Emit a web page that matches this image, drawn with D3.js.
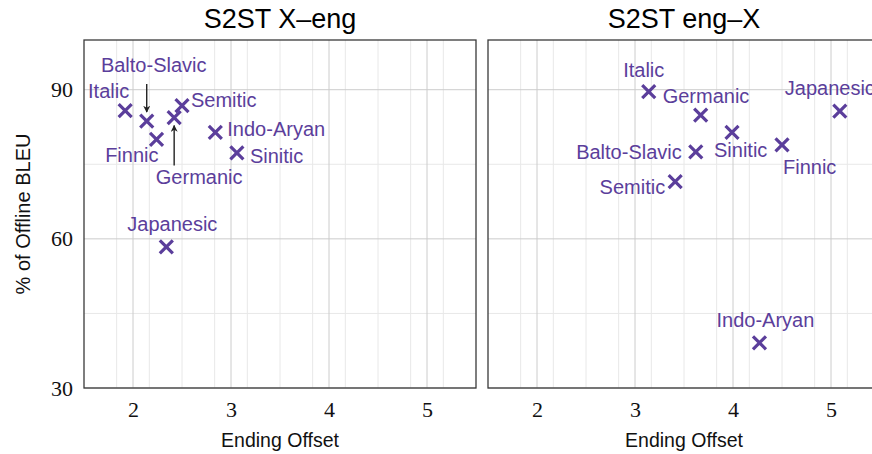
<!DOCTYPE html>
<html>
<head>
<meta charset="utf-8">
<script src="https://cdn.jsdelivr.net/npm/d3@7"></script>
<style>
  html, body { margin: 0; padding: 0; background: #fff; }
  svg { display: block; }
</style>
</head>
<body>
<div id="chart"></div>
<script>
// language families, same order in both panels
const families = ['Italic', 'Balto-Slavic', 'Finnic', 'Germanic',
  'Semitic', 'Indo-Aryan', 'Sinitic', 'Japanesic'];

// S2ST X-eng
const xengOffset = [1.92, 2.14, 2.24, 2.42, 2.50, 2.84, 3.06, 2.34];
const xengBleu = [85.8, 83.7, 80.0, 84.4, 86.8, 81.4, 77.3, 58.4];

// S2ST eng-X
const engxOffset = [3.14, 3.62, 4.50, 3.67, 3.41, 4.27, 3.99, 5.09];
const engxBleu = [89.6, 77.5, 78.9, 84.9, 71.5, 39.1, 81.4, 85.7];

const xTicks = [2, 3, 4, 5];
const yTicks = [30, 60, 90];

const width = 872;
const height = 454;
const purple = '#5b3e9b';

// label placement: [dx, dy (baseline), anchor, arrow from/to (dy)]
const xengLabels = {
  'Italic': [4, -13, 'end'],
  'Balto-Slavic': [7, -49, 'middle', [-37, -9]],
  'Finnic': [2, 23, 'end'],
  'Germanic': [25, 66, 'middle', [48, 8]],
  'Semitic': [9, 1, 'start'],
  'Indo-Aryan': [12, 4, 'start'],
  'Sinitic': [13, 10, 'start'],
  'Japanesic': [6, -16, 'middle'],
};
const engxLabels = {
  'Italic': [-5, -15, 'middle'],
  'Balto-Slavic': [-14, 7, 'end'],
  'Finnic': [1, 29, 'start'],
  'Germanic': [-38, -12, 'start'],
  'Semitic': [-10, 12, 'end'],
  'Indo-Aryan': [6, -16, 'middle'],
  'Sinitic': [-18, 25, 'start'],
  'Japanesic': [-10, -16, 'middle'],
};

const svg = d3.select('#chart')
    .append('svg')
    .attr('width', width)
    .attr('height', height);

svg.append('defs').append('marker')
    .attr('id', 'arrow')
    .attr('viewBox', '0 0 10 10')
    .attr('refX', 9)
    .attr('refY', 5)
    .attr('markerWidth', 7)
    .attr('markerHeight', 7)
    .attr('markerUnits', 'userSpaceOnUse')
    .attr('orient', 'auto')
    .append('path')
    .attr('d', 'M0,0 L10,5 L0,10 L3,5 Z')
    .attr('fill', '#222');

const plotTop = 40;
const plotBottom = 388;
const panelW = 392;

function drawPanel(left, title, xs, ys, placement, showY) {
  const x = d3.scaleLinear().domain([1.5, 5.5]).range([left, left + panelW]);
  const y = d3.scaleLinear().domain([30, 100]).range([plotBottom, plotTop]);
  const g = svg.append('g');

  // minor grid
  const xMinor = d3.range(1.5, 5.5, 1 / 3).filter((v) =>
    Math.abs(v - Math.round(v)) > 0.01 && v > 1.5);
  g.selectAll('.xminor').data(xMinor).enter().append('line')
      .attr('x1', (d) => x(d)).attr('x2', (d) => x(d))
      .attr('y1', plotTop).attr('y2', plotBottom)
      .attr('stroke', '#e8e8e8').attr('stroke-width', 1);
  g.selectAll('.yminor').data([45, 75]).enter().append('line')
      .attr('x1', left).attr('x2', left + panelW)
      .attr('y1', (d) => y(d)).attr('y2', (d) => y(d))
      .attr('stroke', '#e8e8e8').attr('stroke-width', 1);

  // major grid
  g.selectAll('.xmajor').data(xTicks).enter().append('line')
      .attr('x1', (d) => x(d)).attr('x2', (d) => x(d))
      .attr('y1', plotTop).attr('y2', plotBottom)
      .attr('stroke', '#cccccc').attr('stroke-width', 1);
  g.selectAll('.ymajor').data(yTicks).enter().append('line')
      .attr('x1', left).attr('x2', left + panelW)
      .attr('y1', (d) => y(d)).attr('y2', (d) => y(d))
      .attr('stroke', '#cccccc').attr('stroke-width', 1);

  // frame
  g.append('rect')
      .attr('x', left).attr('y', plotTop)
      .attr('width', panelW).attr('height', plotBottom - plotTop)
      .attr('fill', 'none')
      .attr('stroke', '#3a3a3a').attr('stroke-width', 1.3);

  // axes
  const xAxis = d3.axisBottom(x).tickValues(xTicks).tickSize(0).tickPadding(13)
      .tickFormat(d3.format('d'));
  g.append('g')
      .attr('transform', `translate(0,${plotBottom})`)
      .call(xAxis)
      .call((a) => a.select('.domain').remove())
      .selectAll('text')
      .attr('font-family', '"Liberation Serif", serif')
      .attr('font-size', 22)
      .attr('fill', '#111');

  if (showY) {
    const yAxis = d3.axisLeft(y).tickValues(yTicks).tickSize(0).tickPadding(11)
        .tickFormat(d3.format('d'));
    g.append('g')
        .attr('transform', `translate(${left},0)`)
        .call(yAxis)
        .call((a) => a.select('.domain').remove())
        .selectAll('text')
        .attr('font-family', '"Liberation Serif", serif')
        .attr('font-size', 22)
        .attr('fill', '#111');

    svg.append('text')
        .attr('transform', `translate(30,${(plotTop + plotBottom) / 2}) rotate(-90)`)
        .attr('text-anchor', 'middle')
        .attr('font-family', '"Liberation Sans", Arial, sans-serif')
        .attr('font-size', 20)
        .attr('fill', '#111')
        .text('% of Offline BLEU');
  }

  svg.append('text')
      .attr('x', left + panelW / 2).attr('y', 447)
      .attr('text-anchor', 'middle')
      .attr('font-family', '"Liberation Sans", Arial, sans-serif')
      .attr('font-size', 19.5)
      .attr('fill', '#111')
      .text('Ending Offset');

  svg.append('text')
      .attr('x', left + panelW / 2).attr('y', 28)
      .attr('text-anchor', 'middle')
      .attr('font-family', '"Liberation Sans", Arial, sans-serif')
      .attr('font-size', 27)
      .attr('fill', '#000')
      .text(title);

  const pts = families.map((f, i) => ({name: f, x: xs[i], y: ys[i]}));

  // arrows
  pts.filter((d) => placement[d.name][3]).forEach((d) => {
    const [a, b] = placement[d.name][3];
    const px = x(d.x);
    const py = y(d.y);
    g.append('line')
        .attr('x1', px).attr('x2', px)
        .attr('y1', py + a).attr('y2', py + b)
        .attr('stroke', '#222').attr('stroke-width', 1.4)
        .attr('marker-end', 'url(#arrow)');
  });

  // markers
  const s = 6.5;
  g.selectAll('.mark').data(pts).enter().append('path')
      .attr('d', (d) => {
        const px = x(d.x);
        const py = y(d.y);
        return `M${px - s},${py - s}L${px + s},${py + s}` +
          `M${px - s},${py + s}L${px + s},${py - s}`;
      })
      .attr('stroke', purple)
      .attr('stroke-width', 3.2)
      .attr('fill', 'none');

  g.selectAll('.lab').data(pts).enter().append('text')
      .attr('x', (d) => x(d.x) + placement[d.name][0])
      .attr('y', (d) => y(d.y) + placement[d.name][1])
      .attr('text-anchor', (d) => placement[d.name][2])
      .attr('font-family', '"Liberation Sans", Arial, sans-serif')
      .attr('font-size', 20)
      .attr('fill', purple)
      .text((d) => d.name);
}

drawPanel(84, 'S2ST X\u2013eng', xengOffset, xengBleu, xengLabels, true);
drawPanel(488, 'S2ST eng\u2013X', engxOffset, engxBleu, engxLabels, false);
</script>
</body>
</html>
